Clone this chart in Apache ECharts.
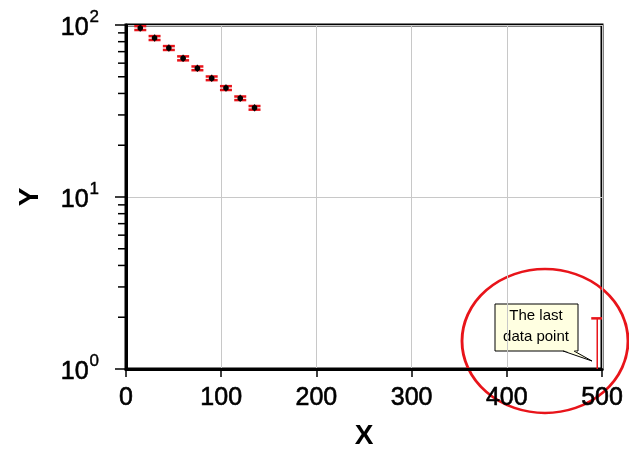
<!DOCTYPE html>
<html>
<head>
<meta charset="utf-8">
<script src="https://cdn.jsdelivr.net/npm/echarts@6/dist/echarts.min.js"></script>
<style>
  html, body { margin: 0; padding: 0; background: #fff; }
  #chart { width: 629px; height: 455px; }
</style>
</head>
<body>
<div id="chart"></div>
<script>
// measured points with error bars (last one sits below the axis, only its upper bar shows)
const xVals = [15, 30, 45, 60, 75, 90, 105, 120, 135, 495];
const yVals = [96, 84, 73.5, 64, 56, 49, 43, 37.5, 33, 0.5];
const yLow  = [93.5, 81.8, 71.6, 62.3, 54.6, 47.8, 41.9, 36.6, 32.2, 0.3];
const yHigh = [98.5, 86.2, 75.4, 65.7, 57.4, 50.2, 44.1, 38.4, 33.8, 1.97];
const yMinorTicks = [2, 3, 4, 5, 6, 7, 8, 9, 20, 30, 40, 50, 60, 70, 80, 90];
const calloutLines = ['The last', 'data point'];

const FONT = '"Liberation Sans", Arial, sans-serif';
const RED = '#e8141a';

const chart = echarts.init(document.getElementById('chart'));

const pointData = xVals.map((x, i) => [x, yVals[i], yLow[i], yHigh[i]]);

function renderErrorPoint(params, api) {
    let c = api.coord([api.value(0), api.value(1)]);
    let lo = api.coord([api.value(0), api.value(2)]);
    let hi = api.coord([api.value(0), api.value(3)]);
    let hw = 6;
    return {
        type: 'group',
        children: [
            {type: 'line', shape: {x1: c[0], y1: lo[1], x2: c[0], y2: hi[1]}, style: {stroke: RED, lineWidth: 1.5}},
            {type: 'line', shape: {x1: c[0] - hw, y1: hi[1], x2: c[0] + hw, y2: hi[1]}, style: {stroke: RED, lineWidth: 2.5}},
            {type: 'line', shape: {x1: c[0] - hw, y1: lo[1], x2: c[0] + hw, y2: lo[1]}, style: {stroke: RED, lineWidth: 2.5}},
            {type: 'line', shape: {x1: c[0], y1: c[1] - 3.5, x2: c[0], y2: c[1] + 3.5}, style: {stroke: '#000', lineWidth: 1.2}},
            {type: 'circle', shape: {cx: c[0], cy: c[1], r: 2.8}, style: {fill: '#000'}}
        ]
    };
}

function renderMinorTick(params, api) {
    let p = api.coord([0, api.value(0)]);
    return {
        type: 'line',
        shape: {x1: p[0] - 8, y1: p[1], x2: p[0], y2: p[1]},
        style: {stroke: '#000', lineWidth: 1.5}
    };
}

const option = {
    backgroundColor: '#fff',
    animation: false,
    grid: {
        left: 126,
        right: 27,
        top: 25,
        bottom: 83,
        show: true,
        borderColor: '#000',
        borderWidth: 3
    },
    xAxis: {
        type: 'value',
        min: 0,
        max: 500,
        interval: 100,
        name: 'X',
        nameLocation: 'middle',
        nameGap: 53,
        nameTextStyle: {fontFamily: FONT, fontSize: 28, fontWeight: 'bold', color: '#000'},
        axisLine: {lineStyle: {color: '#000', width: 3}},
        axisTick: {show: true, length: 8, lineStyle: {color: '#000', width: 1.5}},
        axisLabel: {margin: 17, fontFamily: FONT, fontSize: 25, color: '#000', textBorderColor: '#000', textBorderWidth: 0.6},
        splitLine: {show: true, lineStyle: {color: '#c8c8c8', width: 1}}
    },
    yAxis: {
        type: 'log',
        logBase: 10,
        min: 1,
        max: 100,
        name: 'Y',
        nameLocation: 'middle',
        nameGap: 82,
        nameTextStyle: {fontFamily: FONT, fontSize: 28, fontWeight: 'bold', color: '#000'},
        axisLine: {lineStyle: {color: '#000', width: 3}},
        axisTick: {show: true, length: 11, lineStyle: {color: '#000', width: 1.5}},
        axisLabel: {
            margin: 27,
            formatter: v => '{b|10}{s|' + Math.round(Math.log10(v)) + '}',
            rich: {
                b: {fontFamily: FONT, fontSize: 25, color: '#000', lineHeight: 32, verticalAlign: 'bottom', textBorderColor: '#000', textBorderWidth: 0.6},
                s: {fontFamily: FONT, fontSize: 17, color: '#000', lineHeight: 32, verticalAlign: 'top', padding: [0, 0, 0, 1], textBorderColor: '#000', textBorderWidth: 0.4}
            }
        },
        splitLine: {show: true, lineStyle: {color: '#c8c8c8', width: 1}}
    },
    series: [{
        name: 'minor ticks',
        type: 'custom',
        clip: false,
        silent: true,
        renderItem: renderMinorTick,
        data: yMinorTicks.map(v => [v]),
        encode: {y: 0}
    }, {
        name: 'data',
        type: 'custom',
        clip: true,
        renderItem: renderErrorPoint,
        data: pointData,
        encode: {x: 0, y: 1}
    }],
    graphic: [{
        type: 'group',
        z: 100,
        children: [
            {type: 'rect', shape: {x: 495, y: 304, width: 83, height: 47}, style: {fill: '#ffffe1', stroke: '#000', lineWidth: 1}},
            {type: 'polygon', shape: {points: [[563, 350], [574, 350], [592, 361]]}, style: {fill: '#ffffe1'}},
            {type: 'polyline', shape: {points: [[563, 351], [592, 361], [574, 351]]}, style: {stroke: '#000', lineWidth: 1, fill: null}},
            {
                type: 'text',
                style: {
                    x: 536, y: 326,
                    text: calloutLines.join('\n'),
                    font: '15px ' + FONT,
                    fill: '#000',
                    align: 'center',
                    verticalAlign: 'middle',
                    lineHeight: 21
                }
            },
            {
                type: 'circle',
                x: 545, y: 341,
                scaleX: 83 / 72, scaleY: 1,
                shape: {cx: 0, cy: 0, r: 72},
                style: {fill: null, stroke: RED, lineWidth: 2.5, strokeNoScale: true}
            }
        ]
    }]
};

chart.setOption(option);
</script>
</body>
</html>
